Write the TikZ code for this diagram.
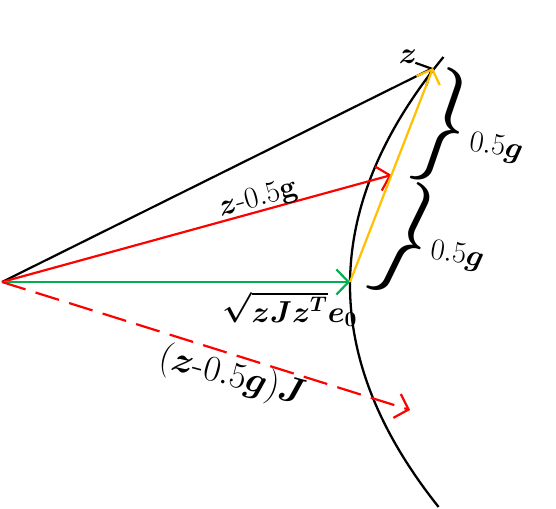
\documentclass[tikz,border=0pt]{standalone}
\usepackage{amsmath}
\usepackage{bm}
\usetikzlibrary{arrows.meta,calc,positioning}
\definecolor{vred}{RGB}{255,0,0}
\definecolor{vgreen}{RGB}{0,176,80}
\definecolor{vyellow}{RGB}{255,192,0}
\tikzset{
  vec/.style={line width=1.25pt,-{Straight Barb[length=2.4mm,width=5mm,line width=1.25pt]}},
  lbl/.style={font=\LARGE},
  brc/.style={inner sep=0pt}
}

\begin{document}
\begin{tikzpicture}[x=0.02cm,y=-0.02cm]
			\useasboundingbox (0,0) rectangle (556,509);
			\coordinate (O) at (2,282);
			\coordinate (z) at (433,68);
			\coordinate (p) at (350,282);
			\coordinate (m) at ($(p)!0.5!(z)$);
			\coordinate (zJ) at (410,410);
			% the curve
			\draw[line width=1.3pt] plot[domain=57:507,samples=80] ({350+18*((\x-285)*0.01)^2},\x);
			\draw[vec] (O) -- (z);
			\draw[vec,vred] (O) -- (m);
			\draw[vec,vgreen] (O) -- (p);
			\draw[vec,vred,dash pattern=on 14pt off 6pt] (O) -- (zJ);
			\draw[vec,vyellow] (p) -- (z);
			\node[lbl] (zl) at (408,57) {$\bm{z}$};
			\node[lbl,rotate=15.4] (ml) at (258,199) {$\bm{z}$-$0.5\mathbf{g}$};
			\node[lbl] (pl) at (290,309) {$\bm{\sqrt{zJz^T}e_0}$};
			\node[lbl,font=\huge,rotate=-15] (jl) at (232,377) {$(\bm{z}$-$0.5\bm{g})\bm{J}$};
			% braces
			\node[brc,rotate=-19] (b1) at (444,128) {\resizebox*{0.9cm}{2.35cm}{$\}$}};
			\node[brc,rotate=-26] (b2) at (407,242) {\resizebox*{0.9cm}{2.35cm}{$\}$}};
			\node[lbl,rotate=-10] (g1) at (496,148) {$0.5\bm{g}$};
			\node[lbl,rotate=-10] (g2) at (457,256) {$0.5\bm{g}$};
\end{tikzpicture}
\end{document}
